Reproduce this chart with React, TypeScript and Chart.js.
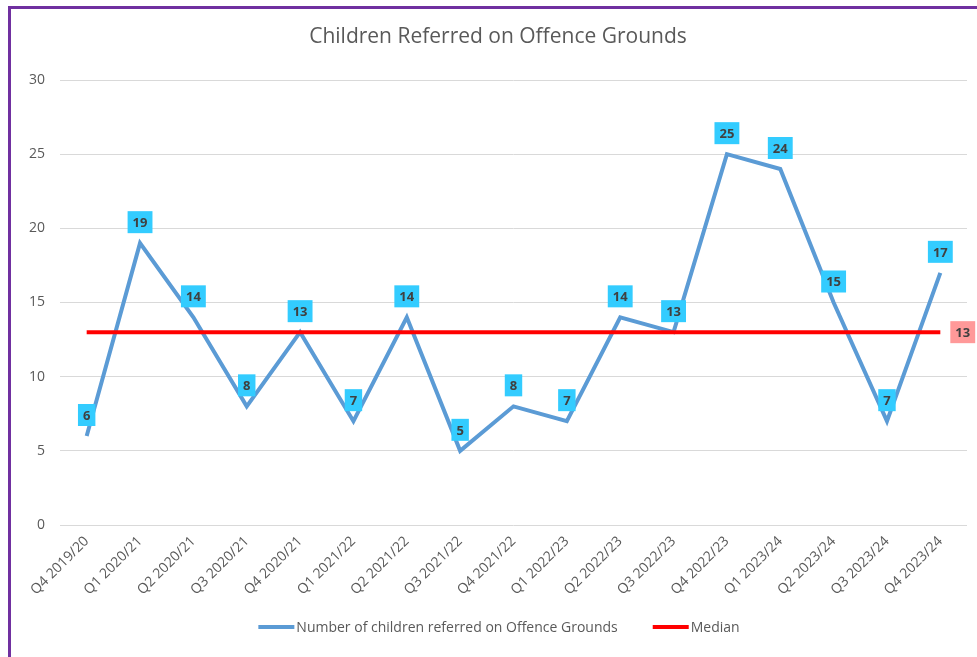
import React, { useEffect, useRef } from "react";
import { Chart, registerables } from "chart.js";

Chart.register(...registerables);

const categories = [
  "Q4 2019/20", "Q1 2020/21", "Q2 2020/21", "Q3 2020/21", "Q4 2020/21",
  "Q1 2021/22", "Q2 2021/22", "Q3 2021/22", "Q4 2021/22", "Q1 2022/23",
  "Q2 2022/23", "Q3 2022/23", "Q4 2022/23", "Q1 2023/24", "Q2 2023/24",
  "Q3 2023/24", "Q4 2023/24",
];
const referred = [6, 19, 14, 8, 13, 7, 14, 5, 8, 7, 14, 13, 25, 24, 15, 7, 17];
const medianValue = 13;
const median = categories.map(() => medianValue);
const seriesNames = ["Number of children referred on Offence Grounds", "Median"];
const seriesColors = ["#5B9BD5", "#FF0000"];
const titleText = "Children Referred on Offence Grounds";

const FONT = "'Open Sans', 'Noto Sans', sans-serif";
const TEXT = "#595959";

const labelPlugin = {
  id: "valueLabels",
  afterDraw(chart: any) {
    const ctx = chart.ctx;
    ctx.save();

    // title
    ctx.font = `21px ${FONT}`;
    ctx.textAlign = "center";
    ctx.textBaseline = "middle";
    ctx.fillStyle = TEXT;
    ctx.fillText(titleText, 498, 37);

    ctx.font = `bold 13px ${FONT}`;
    const meta0 = chart.getDatasetMeta(0);
    meta0.data.forEach((pt: any, i: number) => {
      const txt = String(referred[i]);
      const w = ctx.measureText(txt).width + 10;
      const h = 22;
      const cx = pt.x;
      const cy = pt.y - 21;
      ctx.fillStyle = "#33CCFF";
      ctx.fillRect(cx - w / 2, cy - h / 2, w, h);
      ctx.fillStyle = "#404040";
      ctx.fillText(txt, cx, cy + 1);
    });
    const meta1 = chart.getDatasetMeta(1);
    const last = meta1.data[meta1.data.length - 1];
    if (last) {
      const txt = String(medianValue);
      const w = ctx.measureText(txt).width + 10;
      const h = 22;
      const left = last.x + 10;
      ctx.fillStyle = "#FF9999";
      ctx.fillRect(left, last.y - h / 2, w, h);
      ctx.fillStyle = "#404040";
      ctx.fillText(txt, left + w / 2, last.y + 1);
    }

    // custom legend
    ctx.font = `14px ${FONT}`;
    ctx.textAlign = "left";
    const lineW = 36;
    const gap = 2;
    const itemGap = 35;
    const widths = seriesNames.map((n) => lineW + gap + ctx.measureText(n).width);
    const total = widths.reduce((a, b) => a + b, 0) + itemGap * (seriesNames.length - 1);
    let x = 499 - total / 2;
    const y = 627;
    seriesNames.forEach((n, i) => {
      ctx.strokeStyle = seriesColors[i];
      ctx.lineWidth = 4;
      ctx.beginPath();
      ctx.moveTo(x, y);
      ctx.lineTo(x + lineW, y);
      ctx.stroke();
      ctx.fillStyle = TEXT;
      ctx.fillText(n, x + lineW + gap, y + 1);
      x += widths[i] + itemGap;
    });
    ctx.restore();
  },
};

export default function App() {
  const ref = useRef<HTMLCanvasElement>(null);
  useEffect(() => {
    if (!ref.current) return;
    const chart = new Chart(ref.current, {
      type: "line",
      data: {
        labels: categories,
        datasets: [
          {
            label: seriesNames[0],
            data: referred,
            borderColor: seriesColors[0],
            backgroundColor: seriesColors[0],
            borderWidth: 4,
            pointRadius: 0,
            tension: 0,
          },
          {
            label: seriesNames[1],
            data: median,
            borderColor: seriesColors[1],
            backgroundColor: seriesColors[1],
            borderWidth: 4,
            pointRadius: 0,
            order: -1,
          },
        ],
      },
      options: {
        responsive: false,
        animation: false,
        layout: { padding: { top: 80, left: 0, right: 10, bottom: 46 } },
        scales: {
          x: {
            offset: true,
            grid: { display: false, drawTicks: false },
            border: { display: false },
            ticks: {
              color: TEXT,
              font: { family: FONT, size: 14 },
              minRotation: 45,
              maxRotation: 45,
              padding: 8,
              autoSkip: false,
            },
            afterFit(scale: any) {
              scale.height = 86;
            },
          },
          y: {
            min: 0,
            max: 30,
            grid: { color: "#D9D9D9", lineWidth: 1, drawTicks: false },
            border: { display: false },
            ticks: {
              stepSize: 5,
              color: TEXT,
              font: { family: FONT, size: 14 },
              padding: 15,
            },
            afterFit(scale: any) {
              scale.width = 60;
            },
          },
        },
        plugins: {
          title: { display: false },
          tooltip: { enabled: false },
          legend: { display: false },
        },
      },
      plugins: [labelPlugin],
    } as any);
    return () => chart.destroy();
  }, []);

  return (
    <div style={{ position: "fixed", left: 0, top: 0, width: 977, height: 657, overflow: "hidden", background: "#fff" }}>
      <div
        style={{
          position: "absolute",
          left: 8,
          top: 6,
          width: 1100,
          height: 800,
          borderLeft: "3px solid #7030A0",
          borderTop: "3px solid #7030A0",
        }}
      />
      <canvas ref={ref} width={977} height={657} style={{ position: "absolute", left: 0, top: 0 }} />
    </div>
  );
}
